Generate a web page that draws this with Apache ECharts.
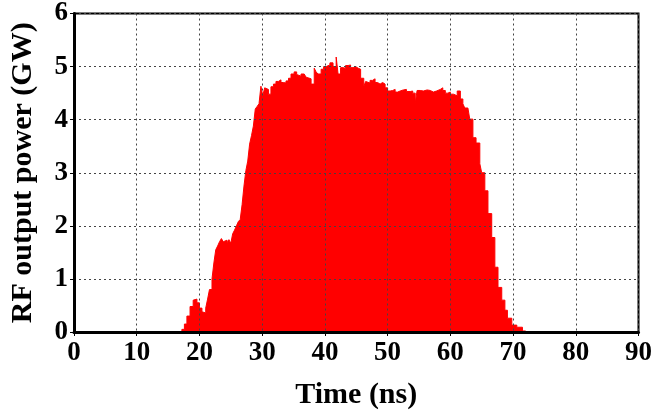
<!DOCTYPE html>
<html>
<head>
<meta charset="utf-8">
<script src="https://cdn.jsdelivr.net/npm/echarts@6/dist/echarts.min.js"></script>
<style>
  html, body { margin: 0; padding: 0; background: #fff; }
  #chart { width: 655px; height: 415px; }
</style>
</head>
<body>
<div id="chart"></div>
<script>
// time axis (ns) and RF output power (GW)
const times = [16.8, 17.2, 17.6, 18.0, 18.5, 19.0, 19.3, 19.6, 20.0, 20.4, 20.7, 21.0, 21.3, 21.6, 22.0,
  22.3, 22.6, 22.9, 23.2, 23.5, 23.8, 24.1, 24.4, 24.7, 25.0, 25.3, 25.6, 25.9, 26.2, 26.5, 26.8,
  27.1, 27.4, 27.7, 28.0, 28.3, 28.6, 28.9, 29.2, 29.5, 29.8, 30.1, 30.4, 30.7, 31.0, 31.4, 31.8,
  32.2, 32.6, 33.0, 33.4, 33.8, 34.2, 34.6, 35.1, 35.5, 35.8, 36.2, 36.7, 37.0, 37.3, 37.8, 38.3,
  38.6, 38.9, 39.4, 39.8, 40.2, 40.8, 41.3, 41.8, 42.1, 42.5, 42.9, 43.3, 43.7, 44.1, 44.5, 44.9,
  45.3, 45.7, 46.2, 46.5, 46.8, 47.2, 47.6, 48.0, 48.4, 48.8, 49.2, 49.6, 50.0, 50.4, 50.8, 51.2,
  51.6, 52.0, 52.5, 53.0, 53.6, 54.0, 54.4, 54.7, 55.2, 55.7, 56.3, 56.8, 57.3, 57.8, 58.4, 58.8,
  59.2, 59.6, 60.0, 60.5, 61.1, 61.6, 62.0, 62.3, 62.8, 63.1, 63.6, 64.1, 64.7, 65.0, 65.5, 66.0,
  66.6, 67.1, 67.6, 68.2, 68.7, 69.1, 69.8, 70.6, 71.5, 72.0]
const power = [0, 0.05, 0.15, 0.3, 0.48, 0.6, 0.62, 0.55, 0.45, 0.38, 0.36, 0.45, 0.62, 0.8, 1.0,
  1.3, 1.55, 1.62, 1.7, 1.76, 1.7, 1.73, 1.68, 1.74, 1.67, 1.85, 1.92, 2.0, 2.08, 2.12, 2.4,
  2.75, 3.04, 3.22, 3.54, 3.7, 3.88, 4.2, 4.25, 4.3, 4.63, 4.45, 4.6, 4.57, 4.48, 4.62, 4.67,
  4.72, 4.75, 4.7, 4.69, 4.73, 4.78, 4.86, 4.9, 4.85, 4.82, 4.86, 4.86, 4.8, 4.77, 4.67, 4.97,
  4.9, 4.86, 4.95, 5.0, 5.03, 5.07, 5.0, 5.18, 4.86, 4.98, 4.97, 5.02, 5.03, 4.98, 5.0, 4.97,
  4.95, 4.78, 4.63, 4.72, 4.69, 4.74, 4.77, 4.7, 4.67, 4.7, 4.67, 4.6, 4.54, 4.55, 4.57, 4.52,
  4.54, 4.56, 4.57, 4.53, 4.54, 4.5, 4.31, 4.55, 4.54, 4.56, 4.55, 4.52, 4.54, 4.57, 4.6, 4.55,
  4.5, 4.52, 4.48, 4.45, 4.54, 4.39, 4.3, 4.22, 4.22, 4.01, 3.66, 3.56, 3.17, 3.0, 2.66, 2.23,
  1.78, 1.22, 0.84, 0.6, 0.41, 0.26, 0.13, 0.09, 0.02, 0]

const font = '"Liberation Serif", "Times New Roman", serif'
const gridLine = { show: true, lineStyle: { color: '#444', type: [2, 3], width: 1 } }

let myChart = echarts.init(document.getElementById('chart'))

myChart.setOption({
  animation: false,
  grid: {
    left: 71, right: 15, top: 12, bottom: 83,
    show: true, borderColor: '#000', borderWidth: 2
  },
  xAxis: {
    type: 'value', min: 0, max: 90, interval: 10,
    name: 'Time (ns)', nameLocation: 'middle', nameGap: 48,
    nameTextStyle: { fontFamily: font, fontWeight: 'bold', fontSize: 30, color: '#000' },
    axisLine: { show: true, lineStyle: { color: '#000', width: 3 } },
    axisTick: { show: true, length: 4, lineStyle: { color: '#000', width: 1 } },
    axisLabel: { fontFamily: font, fontWeight: 'bold', fontSize: 27, color: '#000', margin: 8 },
    splitLine: gridLine,
    z: 5
  },
  yAxis: {
    type: 'value', min: 0, max: 6, interval: 1,
    name: 'RF output power (GW)', nameLocation: 'middle', nameGap: 36,
    nameTextStyle: { fontFamily: font, fontWeight: 'bold', fontSize: 30, color: '#000' },
    axisLine: { show: true, lineStyle: { color: '#000', width: 3 } },
    axisTick: { show: true, length: 4, lineStyle: { color: '#000', width: 1 } },
    axisLabel: { fontFamily: font, fontWeight: 'bold', fontSize: 27, color: '#000', margin: 6 },
    splitLine: gridLine,
    z: 5
  },
  series: [{
    type: 'line',
    step: 'end',
    showSymbol: false,
    data: times.map((t, i) => [t, power[i]]),
    lineStyle: { color: '#ff0000', width: 1 },
    itemStyle: { color: '#ff0000' },
    areaStyle: { color: '#ff0000', opacity: 1 },
    z: 3
  }]
})
</script>
</body>
</html>
